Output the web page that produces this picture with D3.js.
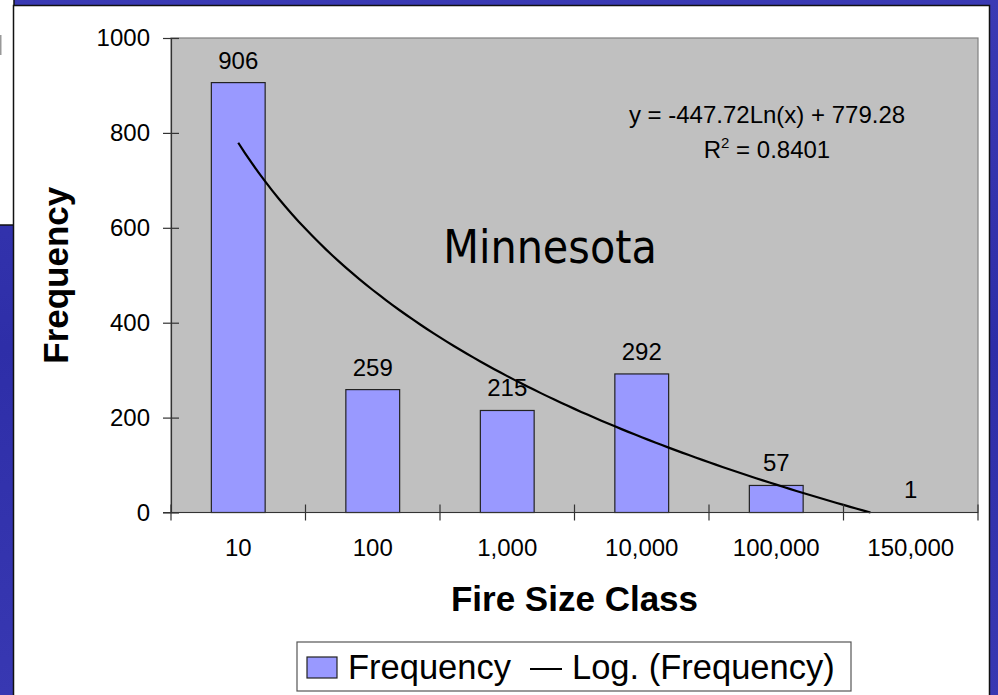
<!DOCTYPE html>
<html>
<head>
<meta charset="utf-8">
<script src="https://cdn.jsdelivr.net/npm/d3@7"></script>
<style>
  body { margin: 0; background: #3333ad; }
  svg { display: block; }
  .tick text { font-family: "Liberation Sans", Arial, sans-serif; }
</style>
</head>
<body>
<div class="chart"></div>
<script>
/*
----------------------------------------------------------
                   data
----------------------------------------------------------
*/
var categories = ["10", "100", "1,000", "10,000", "100,000", "150,000"];
var frequency  = [906, 259, 215, 292, 57, 1];
var yTicks     = [0, 200, 400, 600, 800, 1000];
var equationText = "y = -447.72Ln(x) + 779.28";
var r2Value = "0.8401";

var width = 998, height = 695;
var font = "'Liberation Sans', Arial, sans-serif";

var svg = d3.select(".chart").append("svg")
    .attr("width", width)
    .attr("height", height);

/*
----------------------------------------------------------
                   slide background
----------------------------------------------------------
*/
var defs = svg.append("defs");
var grad = defs.append("linearGradient")
    .attr("id", "bluebg").attr("x1", 0).attr("y1", 0).attr("x2", 0).attr("y2", 1);
grad.append("stop").attr("offset", "0%").attr("stop-color", "#3a3ab4");
grad.append("stop").attr("offset", "50%").attr("stop-color", "#2e2ea8");
grad.append("stop").attr("offset", "100%").attr("stop-color", "#3838b2");

svg.append("rect")
    .attr("width", width).attr("height", height)
    .attr("fill", "url(#bluebg)");

// piece of another slide object peeking in at top left
svg.append("rect")
    .attr("x", -2).attr("y", -2).attr("width", 16).attr("height", 227)
    .attr("fill", "#ffffff").attr("stroke", "#111").attr("stroke-width", 1.5);
svg.append("rect")
    .attr("x", 0).attr("y", 35).attr("width", 1.5).attr("height", 20)
    .attr("fill", "#999");

// white chart panel
svg.append("rect")
    .attr("x", 13.5).attr("y", 5.5).attr("width", 976).attr("height", 700)
    .attr("fill", "#ffffff").attr("stroke", "#111").attr("stroke-width", 1.5);

/*
----------------------------------------------------------
                   scales
----------------------------------------------------------
*/
var plot = { left: 171, right: 978, top: 38, bottom: 512.5 };

var x = d3.scaleBand()
    .domain(categories)
    .range([plot.left, plot.right])
    .padding(0);

var xi = d3.scaleLinear()
    .domain([0.5, categories.length + 0.5])
    .range([plot.left, plot.right]);

var y = d3.scaleLinear()
    .domain([0, 1000])
    .range([plot.bottom, plot.top]);

// plot area
svg.append("rect")
    .attr("x", plot.left).attr("y", plot.top)
    .attr("width", plot.right - plot.left).attr("height", plot.bottom - plot.top)
    .attr("fill", "#c0c0c0")
    .attr("stroke", "#808080").attr("stroke-width", 1.2);

/*
----------------------------------------------------------
                   bars
----------------------------------------------------------
*/
var barW = x.bandwidth() * 0.4;

svg.append("g").selectAll("rect").data(frequency).enter()
    .append("rect")
        .attr("x", function(d, i) { return x(categories[i]) + (x.bandwidth() - barW) / 2; })
        .attr("y", function(d) { return y(d); })
        .attr("width", barW)
        .attr("height", function(d) { return y(0) - y(d); })
        .attr("fill", "#9999ff")
        .attr("stroke", function(d) { return y(0) - y(d) < 2 ? "none" : "#222"; })
        .attr("stroke-width", 1.2);

svg.append("g").selectAll("text").data(frequency).enter()
    .append("text")
        .attr("x", function(d, i) { return x(categories[i]) + x.bandwidth() / 2; })
        .attr("y", function(d) { return y(d) - 14; })
        .attr("text-anchor", "middle")
        .style("font-family", font)
        .style("font-size", "24px")
        .text(function(d) { return d; });

/*
----------------------------------------------------------
                   logarithmic trendline (least squares)
----------------------------------------------------------
*/
var lx = frequency.map(function(d, i) { return Math.log(i + 1); });
var mx = d3.mean(lx), my = d3.mean(frequency);
var sxy = d3.sum(lx, function(v, i) { return (v - mx) * (frequency[i] - my); });
var sxx = d3.sum(lx, function(v) { return (v - mx) * (v - mx); });
var slope = sxy / sxx;
var intercept = my - slope * mx;
var xZero = Math.exp(-intercept / slope);

var trend = d3.range(1, xZero, 0.05).concat([xZero]).map(function(t) {
    return [t, Math.max(0, slope * Math.log(t) + intercept)];
});

svg.append("path")
    .datum(trend)
    .attr("fill", "none")
    .attr("stroke", "#000")
    .attr("stroke-width", 2.2)
    .attr("d", d3.line()
        .x(function(d) { return xi(d[0]); })
        .y(function(d) { return y(d[1]); }));

/*
----------------------------------------------------------
                   axes
----------------------------------------------------------
*/
var yAxis = svg.append("g")
    .attr("transform", "translate(" + plot.left + ",0)")
    .call(d3.axisLeft(y).tickValues(yTicks).tickFormat(d3.format("d"))
        .tickSize(8).tickPadding(13).tickSizeOuter(0));
yAxis.select(".domain").attr("stroke", "#333").attr("stroke-width", 1.2);
yAxis.selectAll(".tick line").attr("x2", 8).attr("x1", -8).attr("stroke", "#333").attr("stroke-width", 1.2);
yAxis.selectAll(".tick text").style("font-size", "24px").attr("fill", "#000").attr("x", -21);

var xAxis = svg.append("g")
    .attr("transform", "translate(0," + plot.bottom + ")");
xAxis.append("line")
    .attr("x1", plot.left - 8).attr("x2", plot.right)
    .attr("stroke", "#333").attr("stroke-width", 1.2);
xAxis.selectAll(".xt").data(d3.range(categories.length + 1)).enter()
    .append("line")
        .attr("class", "xt")
        .attr("x1", function(d) { return xi(d + 0.5); })
        .attr("x2", function(d) { return xi(d + 0.5); })
        .attr("y1", -8).attr("y2", 8)
        .attr("stroke", "#333").attr("stroke-width", 1.2);
xAxis.selectAll(".xl").data(categories).enter()
    .append("text")
        .attr("class", "xl")
        .attr("x", function(d) { return x(d) + x.bandwidth() / 2; })
        .attr("y", 43)
        .attr("text-anchor", "middle")
        .style("font-family", font)
        .style("font-size", "24px")
        .text(function(d) { return d; });

// axis titles
svg.append("text")
    .attr("x", (plot.left + plot.right) / 2).attr("y", 611)
    .attr("text-anchor", "middle")
    .style("font-family", font).style("font-size", "35px").style("font-weight", "bold")
    .text("Fire Size Class");

svg.append("text")
    .attr("transform", "translate(68," + ((plot.top + plot.bottom) / 2) + ") rotate(-90)")
    .attr("text-anchor", "middle")
    .style("font-family", font).style("font-size", "35px").style("font-weight", "bold")
    .text("Frequency");

/*
----------------------------------------------------------
                   annotations
----------------------------------------------------------
*/
svg.append("text")
    .attr("x", 550).attr("y", 263)
    .attr("text-anchor", "middle")
    .style("font-family", "Tahoma, 'DejaVu Sans Condensed', 'DejaVu Sans', sans-serif")
    .style("font-size", "46px")
    .text("Minnesota");

svg.append("text")
    .attr("x", 767).attr("y", 123)
    .attr("text-anchor", "middle")
    .style("font-family", font).style("font-size", "24px")
    .text(equationText);

var r2 = svg.append("text")
    .attr("x", 767).attr("y", 158)
    .attr("text-anchor", "middle")
    .style("font-family", font).style("font-size", "24px");
r2.append("tspan").text("R");
r2.append("tspan").attr("dy", -10).style("font-size", "15px").text("2");
r2.append("tspan").attr("dy", 10).text(" = " + r2Value);

/*
----------------------------------------------------------
                   legend
----------------------------------------------------------
*/
var legend = svg.append("g");
legend.append("rect")
    .attr("x", 297).attr("y", 642).attr("width", 554).attr("height", 49)
    .attr("fill", "#fff").attr("stroke", "#555").attr("stroke-width", 1.2);
legend.append("rect")
    .attr("x", 307).attr("y", 657).attr("width", 30).attr("height", 21)
    .attr("fill", "#9999ff").attr("stroke", "#222").attr("stroke-width", 1.2);
legend.append("text")
    .attr("x", 348).attr("y", 679)
    .style("font-family", font).style("font-size", "34.5px")
    .text("Frequency");
legend.append("line")
    .attr("x1", 530).attr("x2", 562).attr("y1", 669).attr("y2", 669)
    .attr("stroke", "#000").attr("stroke-width", 2);
legend.append("text")
    .attr("x", 572).attr("y", 679)
    .style("font-family", font).style("font-size", "34.5px")
    .text("Log. (Frequency)");
</script>
</body>
</html>
